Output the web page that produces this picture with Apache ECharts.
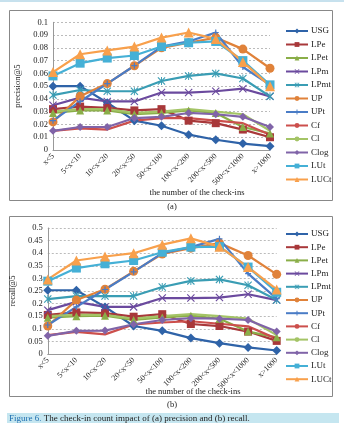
<!DOCTYPE html>
<html>
<head>
<meta charset="utf-8">
<script src="https://cdn.jsdelivr.net/npm/echarts@6/dist/echarts.min.js"></script>
<style>
  html, body { margin: 0; padding: 0; background: #fff; }
  #chart { width: 354px; height: 423px; }
</style>
</head>
<body>
<div id="chart"></div>
<script>
// check-in buckets on the x axis
const categories = ['x<5', '5<x<10', '10<x<20', '20<x<50', '50<x<100', '100<x<200', '200<x<500', '500<x<1000', 'x>1000'];
const seriesNames = ['USG', 'LPe', 'LPet', 'LPm', 'LPmt', 'UP', 'UPt', 'Cf', 'Cl', 'Clog', 'LUt', 'LUCt'];

// (a) precision@5
const precUSG  = [0.050, 0.050, 0.037, 0.023, 0.019, 0.012, 0.008, 0.005, 0.003];
const precLPe  = [0.032, 0.034, 0.033, 0.031, 0.032, 0.023, 0.021, 0.016, 0.010];
const precLPet = [0.029, 0.031, 0.031, 0.028, 0.029, 0.031, 0.029, 0.018, 0.013];
const precLPm  = [0.035, 0.041, 0.038, 0.038, 0.045, 0.045, 0.046, 0.048, 0.042];
const precLPmt = [0.043, 0.047, 0.046, 0.046, 0.054, 0.058, 0.060, 0.056, 0.042];
const precUP   = [0.022, 0.042, 0.052, 0.066, 0.080, 0.084, 0.088, 0.079, 0.064];
const precUPt  = [0.023, 0.038, 0.052, 0.066, 0.081, 0.085, 0.092, 0.065, 0.051];
const precCf   = [0.015, 0.017, 0.016, 0.023, 0.025, 0.025, 0.023, 0.021, 0.012];
const precCl   = [0.030, 0.032, 0.032, 0.029, 0.030, 0.032, 0.030, 0.028, 0.015];
const precClog = [0.015, 0.018, 0.018, 0.025, 0.026, 0.029, 0.028, 0.026, 0.018];
const precLUt  = [0.058, 0.068, 0.072, 0.074, 0.081, 0.084, 0.085, 0.070, 0.051];
const precLUCt = [0.061, 0.075, 0.078, 0.081, 0.088, 0.092, 0.087, 0.069, 0.050];

// (b) recall@5
const recUSG  = [0.253, 0.253, 0.187, 0.111, 0.092, 0.063, 0.043, 0.026, 0.014];
const recLPe  = [0.155, 0.165, 0.162, 0.148, 0.158, 0.119, 0.111, 0.089, 0.052];
const recLPet = [0.144, 0.150, 0.152, 0.135, 0.145, 0.152, 0.140, 0.089, 0.066];
const recLPm  = [0.174, 0.207, 0.187, 0.187, 0.222, 0.222, 0.224, 0.237, 0.214];
const recLPmt = [0.218, 0.230, 0.230, 0.230, 0.266, 0.290, 0.296, 0.273, 0.214];
const recUP   = [0.111, 0.214, 0.257, 0.328, 0.397, 0.420, 0.440, 0.391, 0.316];
const recUPt  = [0.115, 0.187, 0.256, 0.326, 0.400, 0.424, 0.457, 0.319, 0.220];
const recCf   = [0.075, 0.088, 0.078, 0.117, 0.125, 0.130, 0.120, 0.110, 0.060];
const recCl   = [0.150, 0.155, 0.155, 0.140, 0.150, 0.158, 0.150, 0.140, 0.075];
const recClog = [0.072, 0.092, 0.093, 0.118, 0.135, 0.142, 0.140, 0.135, 0.089];
const recLUt  = [0.289, 0.341, 0.358, 0.371, 0.404, 0.424, 0.426, 0.345, 0.245];
const recLUCt = [0.296, 0.371, 0.387, 0.400, 0.434, 0.459, 0.426, 0.345, 0.256];

const precision = [precUSG, precLPe, precLPet, precLPm, precLPmt, precUP, precUPt, precCf, precCl, precClog, precLUt, precLUCt];
const recall = [recUSG, recLPe, recLPet, recLPm, recLPmt, recUP, recUPt, recCf, recCl, recClog, recLUt, recLUCt];

// excel-ish marker shapes
const X_MARK = 'path://M0,1L1,0L5,4L9,0L10,1L6,5L10,9L9,10L5,6L1,10L0,9L4,5Z';
const STAR_MARK = 'path://M0,1L1,0L5,4L9,0L10,1L6,5L10,9L9,10L5,6L1,10L0,9L4,5Z M4.4,0L5.6,0L5.6,10L4.4,10Z';
const PLUS_MARK = 'path://M4,0L6,0L6,4L10,4L10,6L6,6L6,10L4,10L4,6L0,6L0,4L4,4Z';

const styles = {
  USG:  { color: '#2F63A8', symbol: 'diamond', size: 9 },
  LPe:  { color: '#A8383A', symbol: 'rect', size: 8 },
  LPet: { color: '#8AAE48', symbol: 'triangle', size: 8 },
  LPm:  { color: '#6B4A9E', symbol: X_MARK, size: 8 },
  LPmt: { color: '#3A9DB4', symbol: STAR_MARK, size: 8 },
  UP:   { color: '#E0823A', symbol: 'circle', size: 9 },
  UPt:  { color: '#4A7CC6', symbol: PLUS_MARK, size: 6 },
  Cf:   { color: '#CC4F4C', symbol: 'none', size: 0 },
  Cl:   { color: '#A4C466', symbol: 'none', size: 0 },
  Clog: { color: '#8064A8', symbol: 'diamond', size: 8 },
  LUt:  { color: '#45B0D6', symbol: 'rect', size: 9 },
  LUCt: { color: '#F8A04C', symbol: 'triangle', size: 10 },
};

const FONT = 'Liberation Serif';

function makeSeries(values, axisIdx) {
  return seriesNames.map((name, i) => {
    const s = styles[name];
    return {
      name: name,
      type: 'line',
      xAxisIndex: axisIdx,
      yAxisIndex: axisIdx,
      data: values[i],
      symbol: s.symbol,
      symbolSize: s.size,
      showSymbol: s.symbol !== 'none',
      itemStyle: { color: s.color },
      lineStyle: { color: s.color, width: 2.2 },
      animation: false,
    };
  });
}

function xAxisFor(idx) {
  return {
    type: 'category',
    gridIndex: idx,
    data: categories,
    boundaryGap: false,
    axisLine: { lineStyle: { color: '#999' } },
    axisTick: { show: false },
    axisLabel: { rotate: 45, fontFamily: FONT, fontSize: 8, color: '#222', margin: 5, interval: 0 },
  };
}

function yAxisFor(idx, max, step, name, gap) {
  return {
    type: 'value',
    gridIndex: idx,
    min: 0,
    max: max,
    interval: step,
    name: name,
    nameLocation: 'middle',
    nameGap: gap,
    nameTextStyle: { fontFamily: FONT, fontSize: 8.5, color: '#222' },
    axisLine: { show: true, lineStyle: { color: '#999' } },
    axisTick: { show: false },
    axisLabel: {
      fontFamily: FONT, fontSize: 8.5, color: '#222', margin: 5,
      formatter: v => String(+v.toFixed(2)),
    },
    splitLine: { lineStyle: { color: '#bbb', type: [2, 2] } },
  };
}

function legendFor(top, gap) {
  return {
    orient: 'vertical',
    left: 285,
    top: top,
    data: seriesNames,
    itemWidth: 22,
    itemHeight: 6,
    itemGap: gap,
    padding: 0,
    textStyle: { fontFamily: FONT, fontSize: 9, color: '#222', lineHeight: 10, padding: [0, 0, 0, -2] },
  };
}

const chart = echarts.init(document.getElementById('chart'));

chart.setOption({
  backgroundColor: '#fff',
  animation: false,
  grid: [
    { left: 53, top: 22.3, width: 217, height: 127.7 },
    { left: 40.7, top: 228, width: 236, height: 126 },
  ],
  xAxis: [xAxisFor(0), xAxisFor(1)],
  yAxis: [
    yAxisFor(0, 0.1, 0.01, 'precision@5', 31),
    yAxisFor(1, 0.5, 0.05, 'recall@5', 22),
  ],
  legend: [legendFor(26, 3.5), legendFor(229, 3.2)],
  series: makeSeries(precision, 0).concat(makeSeries(recall, 1)),
  graphic: [
    { type: 'line', shape: { x1: 0, y1: 1, x2: 344, y2: 1 }, style: { stroke: '#8EC3DC', lineWidth: 1 } },
    { type: 'rect', shape: { x: 9.5, y: 10.5, width: 323, height: 190 }, style: { fill: 'none', stroke: '#888', lineWidth: 1 } },
    { type: 'rect', shape: { x: 9.5, y: 216.5, width: 323, height: 180 }, style: { fill: 'none', stroke: '#888', lineWidth: 1 } },
    { type: 'text', x: 197, y: 193, style: { text: 'the number of the check-ins', font: '8.5px "Liberation Serif"', fill: '#222', align: 'center', verticalAlign: 'middle' } },
    { type: 'text', x: 193, y: 392, style: { text: 'the number of the check-ins', font: '8.5px "Liberation Serif"', fill: '#222', align: 'center', verticalAlign: 'middle' } },
    { type: 'text', x: 172, y: 207, style: { text: '(a)', font: '8.5px "Liberation Serif"', fill: '#222', align: 'center', verticalAlign: 'middle' } },
    { type: 'text', x: 172, y: 405, style: { text: '(b)', font: '8.5px "Liberation Serif"', fill: '#222', align: 'center', verticalAlign: 'middle' } },
    { type: 'rect', shape: { x: 7, y: 413, width: 332, height: 10 }, style: { fill: '#C5E6F0' } },
    {
      type: 'text', x: 9, y: 418.5,
      style: {
        text: '{a|Figure 6.} The check-in count impact of (a) precision and (b) recall.',
        font: '9px "Liberation Serif"', fill: '#222', verticalAlign: 'middle',
        rich: { a: { fill: '#1F6FB0', font: '9px "Liberation Serif"' } },
      },
    },
  ],
});
</script>
</body>
</html>
